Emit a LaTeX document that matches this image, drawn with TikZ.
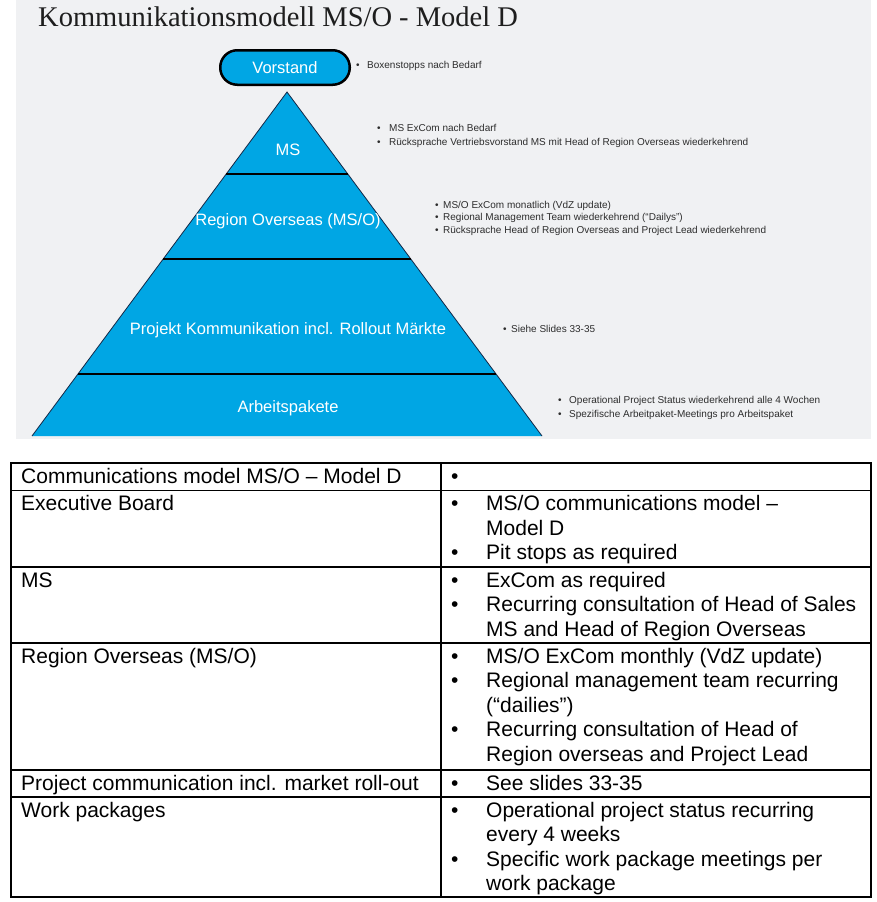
\documentclass[tikz,border=0pt]{standalone}
\usepackage{fontspec}
\setmainfont{Liberation Sans}
\newfontfamily\titlefont{Liberation Serif}
\usetikzlibrary{calc}
\definecolor{pyrblue}{RGB}{0,166,228}
\definecolor{slidebg}{RGB}{240,241,243}
\definecolor{smalltxt}{RGB}{45,45,45}
\definecolor{titletxt}{RGB}{30,30,30}
\definecolor{edgecol}{RGB}{20,40,70}
\newcommand\sline[5]{%
  \node[small] (#1b) at (#2,#4) {•};
  \node[small] (#1) at (#3,#4) {#5};}
\newcommand\tbul[2]{\node[tabtext] (#1) at (451,#2) {•};}
\newcommand\tline[3]{\node[tabtext] (#1) at (486,#2) {#3};}
\begin{document}
\begin{tikzpicture}[x=1pt,y=-1pt,
  tabtext/.style={font=\fontsize{21}{24.5}\selectfont, anchor=base west, inner sep=0pt},
  small/.style={font=\fontsize{10}{12}\selectfont, text=smalltxt, anchor=base west, inner sep=0pt},
  pyrlabel/.style={font=\fontsize{16.5}{18}\selectfont, text=white, anchor=base, inner sep=0pt},
  tabline/.style={line width=1.2pt, black},
  divline/.style={line width=1.6pt, black},
  topbox/.style={draw=black, line width=2.5pt, fill=pyrblue, rounded corners=17pt,
    minimum width=129.5pt, minimum height=34.5pt, inner sep=0pt,
    font=\fontsize{16.5}{18}\selectfont, text=white},
]
\useasboundingbox[fill=white] (0,0) rectangle (876,902);
% slide background
\fill[slidebg] (16,0) rectangle (871,439);
% title
\node[anchor=base west, inner sep=0pt, font=\titlefont\fontsize{28.5}{30}\selectfont, text=titletxt] (title) at (38,27) {Kommunikationsmodell MS/O - Model D};
% pyramid
\coordinate (apex) at (287,92);
\coordinate (bl) at (32,436);
\coordinate (br) at (542,436);
\fill[pyrblue] (apex) -- (bl) -- (br) -- cycle;
\draw[line width=0.8pt, edgecol] (bl) -- (apex) -- (br);
\coordinate (dl1) at ($(apex)!0.2384!(bl)$);
\coordinate (dr1) at ($(apex)!0.2384!(br)$);
\coordinate (dl2) at ($(apex)!0.4855!(bl)$);
\coordinate (dr2) at ($(apex)!0.4855!(br)$);
\coordinate (dl3) at ($(apex)!0.8198!(bl)$);
\coordinate (dr3) at ($(apex)!0.8198!(br)$);
\draw[divline] (dl1) -- (dr1);
\draw[divline] (dl2) -- (dr2);
\draw[divline] (dl3) -- (dr3);
\node[pyrlabel] (pms) at (288,155) {MS};
\node[pyrlabel] (preg) at (288,225) {Region Overseas (MS/O)};
\node[pyrlabel] (pproj) at (288,334) {Projekt Kommunikation incl. Rollout Märkte};
\node[pyrlabel] (parb) at (288,412) {Arbeitspakete};
% Vorstand
\node[topbox] (vorstand) at (285,67.5) {Vorstand};
% slide notes
\sline{n1}{356}{367}{68}{Boxenstopps nach Bedarf}
\sline{n2}{377}{389}{131}{MS ExCom nach Bedarf}
\sline{n3}{377}{389}{145}{Rücksprache Vertriebsvorstand MS mit Head of Region Overseas wiederkehrend}
\sline{n4}{435}{443}{208}{MS/O ExCom monatlich (VdZ update)}
\sline{n5}{435}{443}{220.5}{Regional Management Team wiederkehrend (“Dailys”)}
\sline{n6}{435}{443}{233}{Rücksprache Head of Region Overseas and Project Lead wiederkehrend}
\sline{n7}{503}{511}{332}{Siehe Slides 33-35}
\sline{n8}{558}{569}{403}{Operational Project Status wiederkehrend alle 4 Wochen}
\sline{n9}{558}{569}{417}{Spezifische Arbeitpaket-Meetings pro Arbeitspaket}
% table grid
\draw[tabline] (11,463) rectangle (871,897);
\draw[tabline] (441,463) -- (441,897);
\foreach \yy in {490.5,567,643,770,797} \draw[tabline] (11,\yy) -- (871,\yy);
% left column
\node[tabtext] (l1) at (21,483.5) {Communications model MS/O – Model D};
\node[tabtext] (l2) at (21,510.5) {Executive Board};
\node[tabtext] (l3) at (21,587) {MS};
\node[tabtext] (l4) at (21,663) {Region Overseas (MS/O)};
\node[tabtext] (l5) at (21,790) {Project communication incl. market roll-out};
\node[tabtext] (l6) at (21,817) {Work packages};
% right column
\tbul{b1}{483.5}
\tbul{b2}{510.5}\tline{r2a}{510.5}{MS/O communications model –}
\tline{r2b}{535}{Model D}
\tbul{b3}{559.5}\tline{r2c}{559.5}{Pit stops as required}
\tbul{b4}{587}\tline{r3a}{587}{ExCom as required}
\tbul{b5}{611.5}\tline{r3b}{611.5}{Recurring consultation of Head of Sales}
\tline{r3c}{636}{MS and Head of Region Overseas}
\tbul{b6}{663}\tline{r4a}{663}{MS/O ExCom monthly (VdZ update)}
\tbul{b7}{687.5}\tline{r4b}{687.5}{Regional management team recurring}
\tline{r4c}{712}{(“dailies”)}
\tbul{b8}{736.5}\tline{r4d}{736.5}{Recurring consultation of Head of}
\tline{r4e}{761}{Region overseas and Project Lead}
\tbul{b9}{790}\tline{r5a}{790}{See slides 33-35}
\tbul{b10}{817}\tline{r6a}{817}{Operational project status recurring}
\tline{r6b}{841.5}{every 4 weeks}
\tbul{b11}{866}\tline{r6c}{866}{Specific work package meetings per}
\tline{r6d}{890.5}{work package}
\end{tikzpicture}
\end{document}
